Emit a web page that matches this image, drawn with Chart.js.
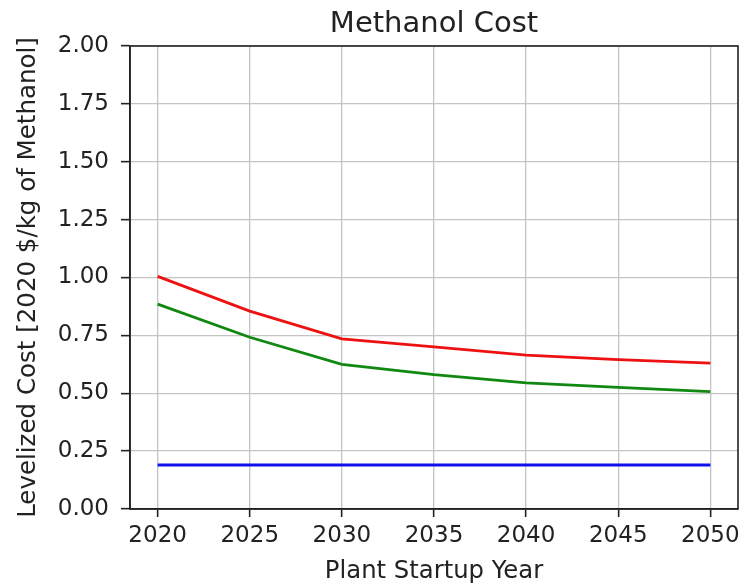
<!DOCTYPE html>
<html>
<head>
<meta charset="utf-8">
<script src="https://cdn.jsdelivr.net/npm/chart.js@4"></script>
<style>
  html, body { margin: 0; padding: 0; background: #ffffff; }
  #wrap { width: 741px; height: 587px; }
</style>
</head>
<body>
<div id="wrap"><canvas id="chart" width="741" height="587"></canvas></div>
<script>
// Plant startup years and levelized methanol cost per scenario
const years = [2020, 2025, 2030, 2035, 2040, 2045, 2050];
const costRed   = [1.005, 0.855, 0.735, 0.700, 0.665, 0.645, 0.630];
const costGreen = [0.885, 0.742, 0.625, 0.580, 0.545, 0.525, 0.507];
const costBlue  = [0.190, 0.190, 0.190, 0.190, 0.190, 0.190, 0.190];

const xTicks = [2020, 2025, 2030, 2035, 2040, 2045, 2050];
const yTicks = [0, 0.25, 0.5, 0.75, 1.0, 1.25, 1.5, 1.75, 2.0];

const chartTitle = 'Methanol Cost';

const FONT = "'DejaVu Sans', sans-serif";
const INK = '#222222';

function pts(values) {
  return years.map((yr, i) => ({ x: yr, y: values[i] }));
}

// Frame the plot area on all four sides and centre the title over it
const frame = {
  id: 'frame',
  afterDatasetsDraw(chart) {
    const a = chart.chartArea;
    const ctx = chart.ctx;
    ctx.save();
    ctx.strokeStyle = INK;
    ctx.lineWidth = 1.6;
    ctx.strokeRect(a.left, a.top, a.right - a.left, a.bottom - a.top);
    ctx.fillStyle = INK;
    ctx.font = "29px 'DejaVu Sans', sans-serif";
    ctx.textAlign = 'center';
    ctx.textBaseline = 'alphabetic';
    ctx.fillText(chartTitle, (a.left + a.right) / 2, 32);
    ctx.restore();
  }
};

new Chart(document.getElementById('chart'), {
  type: 'line',
  data: {
    datasets: [
      { data: pts(costRed),   borderColor: '#ee1111', borderWidth: 2.8 },
      { data: pts(costGreen), borderColor: '#118811', borderWidth: 2.8 },
      { data: pts(costBlue),  borderColor: '#1111ee', borderWidth: 2.8 }
    ]
  },
  options: {
    responsive: false,
    animation: false,
    events: [],
    layout: { padding: { left: 0, right: 3, top: 46, bottom: 0 } },
    elements: { point: { radius: 0 }, line: { tension: 0 } },
    plugins: {
      legend: { display: false },
      tooltip: { enabled: false },
      title: { display: false }
    },
    scales: {
      x: {
        type: 'linear',
        min: 2018.5,
        max: 2051.5,
        afterBuildTicks(scale) { scale.ticks = xTicks.map(v => ({ value: v })); },
        afterFit(scale) {
          scale.height = 78;
          scale.paddingLeft = 0;
          scale.paddingRight = 0;
        },
        grid: { color: '#c4c4c4', lineWidth: 1.3, drawTicks: true, tickLength: 8, tickColor: INK, tickWidth: 1.6 },
        border: { display: true, color: INK, width: 1.6 },
        ticks: {
          color: INK,
          padding: 5,
          maxRotation: 0,
          font: { family: FONT, size: 23 },
          callback: v => String(v)
        },
        title: {
          display: true,
          text: 'Plant Startup Year',
          color: INK,
          font: { family: FONT, size: 24.3 },
          padding: { top: 0, bottom: 1 }
        }
      },
      y: {
        type: 'linear',
        min: 0,
        max: 2,
        afterBuildTicks(scale) { scale.ticks = yTicks.map(v => ({ value: v })); },
        afterFit(scale) { scale.width = 130; },
        grid: { color: '#c4c4c4', lineWidth: 1.3, drawTicks: true, tickLength: 9, tickColor: INK, tickWidth: 1.6 },
        border: { display: true, color: INK, width: 1.6 },
        ticks: {
          color: INK,
          padding: 12,
          font: { family: FONT, size: 23 },
          callback: v => v.toFixed(2)
        },
        title: {
          display: true,
          text: 'Levelized Cost [2020 $/kg of Methanol]',
          color: INK,
          font: { family: FONT, size: 24.5 },
          padding: { top: 14, bottom: 0 }
        }
      }
    }
  },
  plugins: [frame]
});
</script>
</body>
</html>
